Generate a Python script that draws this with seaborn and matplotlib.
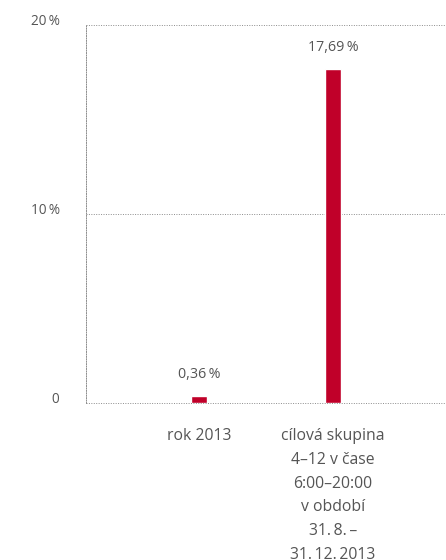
import matplotlib
matplotlib.use("Agg")
import matplotlib.pyplot as plt
import seaborn as sns
import pandas as pd

categories = ["rok 2013", "cílová skupina\n4–12 v čase\n6:00–20:00\nv období\n31.\u20098.\u2009–\n31.\u200912.\u20092013"]
values = [0.36, 17.69]
value_labels = ["0,36\u2009%", "17,69\u2009%"]
ytick_values = [0, 10, 20]
ytick_labels = ["0", "10\u2009%", "20\u2009%"]

sns.set_theme(style="white")
plt.rcParams['font.family'] = ['Open Sans', 'DejaVu Sans']

TEXT = "#555555"
BAR = "#C00029"
GRID = "#8c8c8c"

fig = plt.figure(figsize=(4.46, 5.6), dpi=100)
ax = fig.add_axes([86/446, 1-403/560, 1-86/446, (403-25)/560])

df = pd.DataFrame({"cat": categories, "val": values})
sns.barplot(data=df, x="cat", y="val", color=BAR, width=0.12, saturation=1, ax=ax, zorder=3)

ax.set_xlim(-0.843, 1.843)
ax.set_ylim(0, 20)
ax.set_yticks(ytick_values)
ax.set_yticklabels(ytick_labels)
ax.set_xlabel("")
ax.set_ylabel("")

for s in ["top", "right", "bottom"]:
    ax.spines[s].set_visible(False)
ax.spines["left"].set_linestyle((0, (1, 1.5)))
ax.spines["left"].set_color(GRID)
ax.spines["left"].set_linewidth(0.7)

ax.yaxis.grid(True, linestyle=(0, (1, 1.5)), color=GRID, linewidth=0.7, zorder=0)
for gl in ax.yaxis.get_gridlines():
    gl.set_clip_on(False)
ax.set_axisbelow(True)
ax.tick_params(axis="y", length=0, pad=19, labelsize=9.8, labelcolor=TEXT)
ax.tick_params(axis="x", length=0, pad=18, labelsize=11.3, labelcolor=TEXT)
for lbl in ax.get_yticklabels():
    lbl.set_va("baseline")
for lbl in ax.get_xticklabels():
    lbl.set_linespacing(1.65)
    lbl.set_va("top")

for i, (v, t) in enumerate(zip(values, value_labels)):
    ax.annotate(t, xy=(i, v), xytext=(0, 10), textcoords="offset points",
                ha="center", va="bottom", fontsize=10.3, color=TEXT)

fig.savefig("out.png", dpi=100)
